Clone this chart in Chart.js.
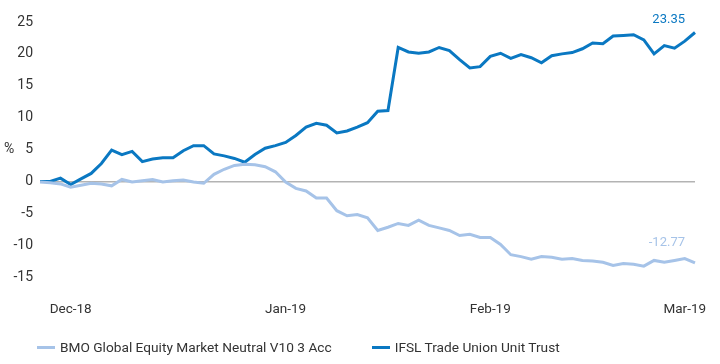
<!DOCTYPE html>
<html>
<head>
<meta charset="utf-8">
<script src="https://cdn.jsdelivr.net/npm/chart.js@4/dist/chart.umd.min.js"></script>
<style>
  body { margin: 0; background: #fff; font-family: Roboto, sans-serif; }
  #wrap { position: relative; width: 720px; height: 364px; }
  #legend { position: absolute; left: 37px; top: 339px; font-size: 13.7px; color: #333; white-space: nowrap; }
  #legend span.item { display: inline-block; margin-right: 40px; }
  #legend span.swatch { display: inline-block; width: 18px; height: 3px; vertical-align: middle; margin-right: 5px; position: relative; top: -1px; }
</style>
</head>
<body>
<div id="wrap">
  <canvas id="chart" width="720" height="364"></canvas>
  <div id="legend"></div>
</div>
<script>
'use strict';
// month labels and the point they sit under
let monthLabels = ['Dec-18', 'Jan-19', 'Feb-19', 'Mar-19'];
let monthIndexes = [3, 24, 44, 63];
let seriesNames = ['BMO Global Equity Market Neutral V10 3 Acc', 'IFSL Trade Union Unit Trust'];
let seriesColors = ['#a6c3e8', '#0a78c2'];
// cumulative performance, %
let bmoValues = [
  -0.1, -0.2, -0.4, -0.9, -0.6, -0.3, -0.4, -0.7, 0.3, -0.1,
  0.1, 0.3, -0.1, 0.1, 0.2, -0.1, -0.3, 1.1, 1.9, 2.5,
  2.7, 2.6, 2.3, 1.5, -0.1, -1.1, -1.5, -2.6, -2.6, -4.6,
  -5.4, -5.2, -5.7, -7.7, -7.2, -6.6, -6.9, -6.1, -6.9, -7.3,
  -7.7, -8.5, -8.3, -8.8, -8.8, -9.9, -11.5, -11.8, -12.2, -11.8,
  -11.9, -12.2, -12.1, -12.4, -12.5, -12.7, -13.2, -12.9, -13.0, -13.3,
  -12.4, -12.7, -12.4, -12.1, -12.77
];
let ifslValues = [
  0, 0, 0.5, -0.5, 0.4, 1.25, 2.8, 4.9, 4.2, 4.7,
  3.1, 3.5, 3.7, 3.7, 4.8, 5.6, 5.6, 4.3, 4.0, 3.6,
  3.0, 4.2, 5.2, 5.6, 6.1, 7.2, 8.5, 9.1, 8.8, 7.6,
  7.9, 8.5, 9.2, 11.0, 11.1, 21.0, 20.3, 20.1, 20.3, 21.0,
  20.5, 19.1, 17.8, 18.0, 19.6, 20.1, 19.3, 19.9, 19.4, 18.6,
  19.7, 20.0, 20.2, 20.8, 21.7, 21.6, 22.8, 22.9, 23.0, 22.2,
  20.0, 21.3, 20.9, 22.0, 23.35
];

let labels = bmoValues.map(() => '');
monthIndexes.forEach((idx, i) => {
  labels[idx] = monthLabels[i];
});

let fontFamily = 'Roboto, sans-serif';

// "%" beside the y axis and the last values at the line ends
const extraText = {
  id: 'extraText',
  afterDatasetsDraw(chart) {
    let ctx = chart.ctx;
    let area = chart.chartArea;
    ctx.save();
    ctx.font = '14px ' + fontFamily;
    ctx.fillStyle = '#333';
    ctx.textAlign = 'left';
    ctx.textBaseline = 'middle';
    ctx.fillText('%', 4, (area.top + area.bottom) / 2);
    ctx.textAlign = 'right';
    ctx.font = '13px ' + fontFamily;
    let offsets = [-20, -13];
    chart.data.datasets.forEach((ds, i) => {
      let pts = chart.getDatasetMeta(i).data;
      let last = pts[pts.length - 1];
      ctx.fillStyle = ds.borderColor;
      ctx.fillText(ds.data[ds.data.length - 1].toFixed(2), last.x - 10, last.y + offsets[i]);
    });
    ctx.restore();
  }
};

let chartObj = document.getElementById('chart').getContext('2d');
let chart = new Chart(chartObj, {
  type: 'line',
  data: {
    labels: labels,
    datasets: [{
      label: seriesNames[0],
      data: bmoValues,
      borderColor: seriesColors[0],
      borderWidth: 3,
      pointRadius: 0,
      tension: 0
    }, {
      label: seriesNames[1],
      data: ifslValues,
      borderColor: seriesColors[1],
      borderWidth: 3,
      pointRadius: 0,
      tension: 0
    }]
  },
  options: {
    responsive: false,
    animation: false,
    layout: {
      padding: { top: 22, right: 12, left: 0, bottom: 0 }
    },
    plugins: {
      legend: { display: false },
      tooltip: { enabled: false }
    },
    scales: {
      x: {
        grid: { display: false, drawTicks: false },
        border: { display: false },
        ticks: {
          autoSkip: false,
          maxRotation: 0,
          padding: 25,
          color: '#333',
          font: { family: fontFamily, size: 13.5 }
        },
        afterFit(scale) {
          scale.height = 87;
        }
      },
      y: {
        min: -15,
        max: 25,
        ticks: {
          stepSize: 5,
          padding: 7,
          color: '#333',
          font: { family: fontFamily, size: 14 }
        },
        grid: {
          drawTicks: false,
          lineWidth: 1.5,
          color: ctx => (ctx.tick && ctx.tick.value === 0) ? '#b3b3b3' : 'rgba(0,0,0,0)'
        },
        border: { display: false },
        afterFit(scale) {
          scale.width = 40;
        }
      }
    }
  },
  plugins: [extraText]
});

// legend below the chart
let legendEl = document.getElementById('legend');
seriesNames.forEach((name, i) => {
  let item = document.createElement('span');
  item.className = 'item';
  let sw = document.createElement('span');
  sw.className = 'swatch';
  sw.style.background = seriesColors[i];
  item.appendChild(sw);
  item.appendChild(document.createTextNode(name));
  legendEl.appendChild(item);
});
</script>
</body>
</html>
